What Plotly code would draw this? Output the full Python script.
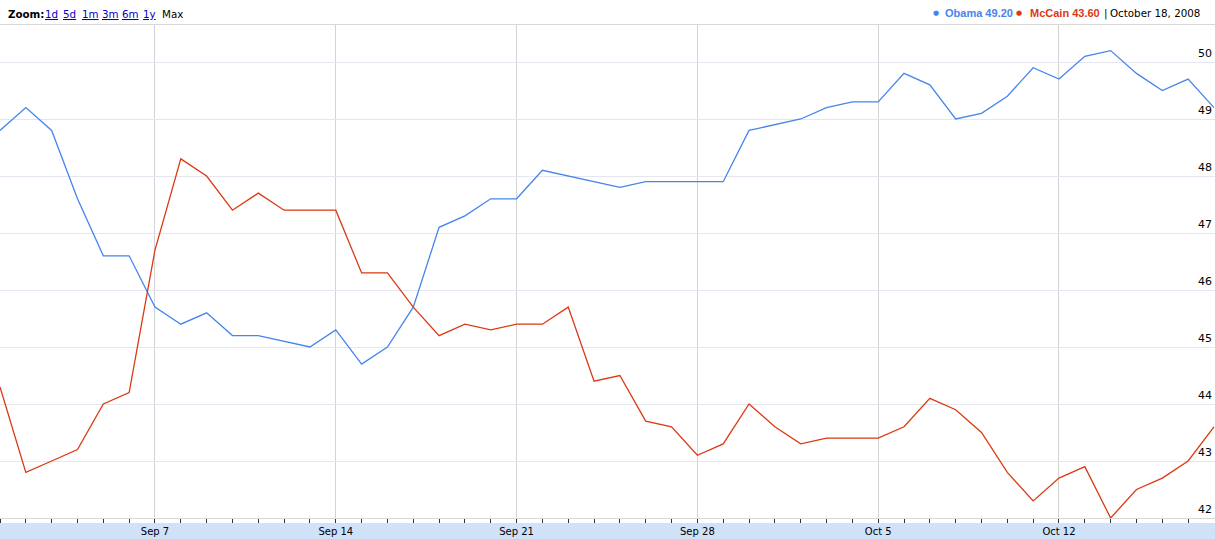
import plotly.graph_objects as go
import pandas as pd

# ---------------- data ----------------
dates = pd.date_range("2008-09-01", "2008-10-18", freq="D")
obama = [48.8, 49.2, 48.8, 47.6, 46.6, 46.6, 45.7, 45.4, 45.6, 45.2,
         45.2, 45.1, 45.0, 45.3, 44.7, 45.0, 45.7, 47.1, 47.3, 47.6,
         47.6, 48.1, 48.0, 47.9, 47.8, 47.9, 47.9, 47.9, 47.9, 48.8,
         48.9, 49.0, 49.2, 49.3, 49.3, 49.8, 49.6, 49.0, 49.1, 49.4,
         49.9, 49.7, 50.1, 50.2, 49.8, 49.5, 49.7, 49.2]
mccain = [44.3, 42.8, 43.0, 43.2, 44.0, 44.2, 46.7, 48.3, 48.0, 47.4,
          47.7, 47.4, 47.4, 47.4, 46.3, 46.3, 45.7, 45.2, 45.4, 45.3,
          45.4, 45.4, 45.7, 44.4, 44.5, 43.7, 43.6, 43.1, 43.3, 44.0,
          43.6, 43.3, 43.4, 43.4, 43.4, 43.6, 44.1, 43.9, 43.5, 42.8,
          42.3, 42.7, 42.9, 42.0, 42.5, 42.7, 43.0, 43.6]
y_ticks = [42, 43, 44, 45, 46, 47, 48, 49, 50]
x_tick_dates = ["2008-09-07", "2008-09-14", "2008-09-21", "2008-09-28",
                "2008-10-05", "2008-10-12"]
x_tick_labels = ["Sep 7", "Sep 14", "Sep 21", "Sep 28", "Oct 5", "Oct 12"]
zoom_links = ["1d", "5d", "1m", "3m", "6m", "1y"]
legend_names = ["Obama", "McCain"]
legend_values = ["49.20", "43.60"]
legend_date = "October 18, 2008"

# ---------------- layout geometry ----------------
W, H = 1215, 539
M_T, M_B = 25, 21
PLOT_H = H - M_T - M_B
PX_PER_UNIT = 57.0
Y_TOP = 42 + PLOT_H / PX_PER_UNIT

BLUE = "#4684ee"
RED = "#dc3912"
FONT = "DejaVu Sans"


def px_x(p):
    return p / W


def px_y(p):
    return 1 + (M_T - p) / PLOT_H


fig = go.Figure()
fig.add_trace(go.Scatter(x=dates, y=obama, mode="lines",
                         line=dict(color=BLUE, width=1.3), name="Obama"))
fig.add_trace(go.Scatter(x=dates, y=mccain, mode="lines",
                         line=dict(color=RED, width=1.3), name="McCain"))

annotations = []
# header left: zoom links
annotations.append(dict(text="<b>Zoom:</b>", x=px_x(6), y=px_y(13.5),
                        xref="paper", yref="paper", xanchor="left",
                        yanchor="middle", showarrow=False,
                        font=dict(family=FONT, size=10.3, color="#000")))
link_x = [44, 62, 80.5, 100.5, 120.5, 141.5]
for lbl, lx in zip(zoom_links, link_x):
    annotations.append(dict(text=lbl, x=px_x(lx - 1), y=px_y(13.5),
                            xref="paper", yref="paper", xanchor="left",
                            yanchor="middle", showarrow=False,
                            font=dict(family=FONT, size=10.3, color="#0000cc",
                                      lineposition="under")))
annotations.append(dict(text="Max", x=px_x(159.5), y=px_y(13.5),
                        xref="paper", yref="paper", xanchor="left",
                        yanchor="middle", showarrow=False,
                        font=dict(family=FONT, size=10.3, color="#000")))

# header right: legend
dot_x = [936, 1019]
name_x = [944, 1029]
for nm, val, dx, nx, col in zip(legend_names, legend_values, dot_x, name_x,
                                [BLUE, RED]):
    annotations.append(dict(text="●", x=px_x(dx), y=px_y(13), xref="paper",
                            yref="paper", xanchor="center", yanchor="middle",
                            showarrow=False,
                            font=dict(family=FONT, size=7, color=col)))
    annotations.append(dict(text=f"<b>{nm} {val}</b>", x=px_x(nx - 1),
                            y=px_y(13), xref="paper", yref="paper",
                            xanchor="left", yanchor="middle", showarrow=False,
                            font=dict(family="Liberation Sans", size=11,
                                      color=col)))
annotations.append(dict(text="|", x=px_x(1105), y=px_y(13), xref="paper",
                        yref="paper", xanchor="center", yanchor="middle",
                        showarrow=False,
                        font=dict(family=FONT, size=10.3, color="#000")))
annotations.append(dict(text=legend_date, x=px_x(1202), y=px_y(13),
                        xref="paper", yref="paper", xanchor="right",
                        yanchor="middle", showarrow=False,
                        font=dict(family=FONT, size=10.3, color="#000")))

shapes = [dict(type="rect", xref="paper", yref="paper", x0=0, x1=1,
               y0=px_y(539.5), y1=px_y(523), fillcolor="#d0e2f8",
               line=dict(width=0), layer="below")]

fig.update_layout(
    width=W, height=H,
    margin=dict(l=0, r=0, t=M_T, b=M_B, pad=0, autoexpand=False),
    paper_bgcolor="white", plot_bgcolor="white",
    showlegend=False,
    annotations=annotations,
    shapes=shapes,
    xaxis=dict(
        range=["2008-09-01 00:00", "2008-10-18 00:58"],
        tickmode="array", tickvals=x_tick_dates, ticktext=x_tick_labels,
        showgrid=True, gridcolor="#d4d4d4", gridwidth=1,
        showline=True, linecolor="#d8d8d8", linewidth=1, mirror=True,
        ticks="outside", ticklen=4, tickcolor="#333", tickwidth=1,
        tickfont=dict(family=FONT, size=10, color="#000"),
        minor=dict(dtick=86400000, tick0="2008-09-01", ticks="outside",
                   ticklen=4, tickcolor="#333", tickwidth=1, showgrid=False),
        zeroline=False, fixedrange=True, automargin=False,
    ),
    yaxis=dict(
        range=[42, Y_TOP], side="right", ticklabelposition="inside",
        tickmode="array", tickvals=y_ticks,
        ticktext=[str(v) for v in y_ticks],
        showgrid=True, gridcolor="#e6e6f0", gridwidth=1,
        ticks="", showline=False, zeroline=False,
        tickfont=dict(family=FONT, size=11, color="#000"),
        ticklabelshift=-9, fixedrange=True, automargin=False,
    ),
)

fig.write_html(
    "out.html",
    config={"displayModeBar": False},
    post_script="document.body.style.margin='0';document.body.style.padding='0';"
                "document.body.style.overflow='hidden';",
)
